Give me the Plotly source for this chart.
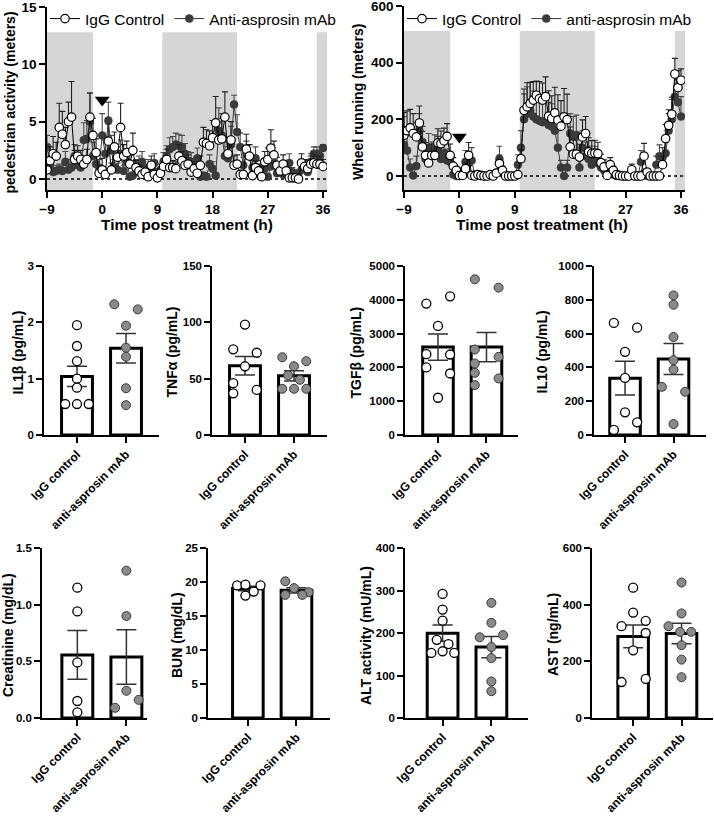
import plotly.graph_objects as go

FONT = "Arial, Liberation Sans, Helvetica, sans-serif"
W, H = 714, 817

# ---------------- time-course data (30-min bins, -9 h .. 36 h) ----------------
TIME_H = [-9 + 0.5 * i for i in range(91)]
DARK_PERIODS = [(-9, -1.5), (9.8, 22.0), (35.0, 36.65)]
TREATMENT_T = 0

ped_igg = [0.8, 1.6, 2.2, 2.0, 4.5, 3.9, 3.0, 5.0, 5.4, 1.7,
           2.0, 1.7, 1.3, 1.7, 5.4, 3.8, 2.3, 0.5, 0.8, 0.4,
           3.3, 0.8, 2.8, 1.9, 4.5, 2.0, 2.3, 1.3, 2.5, 1.0,
           0.7, 0.4, 0.6, 0.2, 1.2, 0.4, 0.1, 0.5, 1.1, 1.7,
           1.0, 1.0, 0.9, 2.0, 1.6, 1.2, 1.3, 0.6, 0.9, 0.5,
           1.2, 3.2, 3.1, 2.9, 3.6, 4.9, 3.4, 3.5, 5.4, 2.2,
           3.4, 1.2, 1.3, 0.4, 0.4, 2.6, 2.0, 0.3, 1.0, 0.7,
           0.2, 1.5, 1.7, 2.7, 2.1, 1.2, 0.7, 1.3, 0.7, 0.1,
           0.1, 0.1, 0.0, 1.4, 1.1, 0.9, 1.3, 1.4, 1.3, 1.3,
           1.1]
ped_igg_err = [1.0, 1.2, 1.5, 1.2, 2.1, 2.0, 1.5, 1.7, 3.1, 0.8,
               0.9, 0.8, 0.7, 0.9, 2.1, 1.5, 1.2, 0.4, 1.0, 0.4,
               1.5, 0.6, 1.3, 0.9, 2.1, 1.0, 1.0, 0.8, 1.5, 0.6,
               0.5, 0.4, 0.5, 0.2, 0.8, 0.3, 0.2, 0.4, 0.7, 0.9,
               0.6, 0.6, 0.6, 1.0, 0.8, 0.7, 0.8, 0.5, 0.6, 0.4,
               0.8, 1.3, 1.2, 1.3, 1.5, 2.3, 1.6, 1.8, 2.2, 1.3,
               1.6, 0.8, 0.8, 0.3, 0.3, 1.3, 1.0, 0.3, 0.6, 0.5,
               0.2, 0.9, 1.0, 1.6, 1.2, 0.7, 0.5, 0.8, 0.5, 0.1,
               0.1, 0.1, 0.0, 0.8, 0.6, 0.5, 0.7, 0.8, 0.7, 0.7,
               0.6]
ped_anti = [2.8, 1.2, 0.6, 0.7, 0.8, 0.7, 1.5, 0.8, 1.0, 2.0,
            1.2, 1.0, 3.4, 3.5, 5.0, 2.0, 1.3, 1.0, 3.8, 2.2,
            5.1, 2.5, 1.0, 0.8, 2.2, 0.7, 1.5, 0.2, 0.3, 1.0,
            1.2, 1.5, 0.5, 1.0, 0.8, 1.4, 0.5, 0.8, 1.5, 2.0,
            2.6, 2.8, 3.0, 2.9, 2.8, 2.2, 1.6, 1.5, 1.0, 1.8,
            0.2, 0.3, 0.2, 1.3, 0.9, 0.3, 4.2, 3.8, 2.0, 1.8,
            3.0, 6.5, 4.1, 2.8, 1.2, 2.2, 2.0, 1.0, 1.8, 0.8,
            1.0, 0.9, 0.2, 1.1, 1.3, 0.5, 0.9, 0.4, 0.8, 1.4,
            0.6, 0.3, 0.5, 0.8, 1.0, 0.6, 1.5, 2.2, 2.2, 2.0,
            2.7]
ped_anti_err = [1.0, 0.8, 0.4, 0.5, 0.5, 0.5, 0.9, 0.6, 0.7, 1.0,
                0.8, 0.7, 1.5, 1.6, 2.5, 1.2, 0.8, 0.7, 1.9, 1.2,
                1.6, 1.3, 0.7, 0.6, 1.2, 0.5, 0.9, 0.2, 0.3, 0.7,
                0.8, 0.9, 0.4, 0.7, 0.5, 0.8, 0.4, 0.5, 0.8, 0.9,
                1.0, 0.9, 1.0, 1.0, 1.0, 0.9, 0.8, 0.8, 0.6, 0.9,
                0.2, 0.2, 0.2, 0.8, 0.6, 0.2, 2.0, 1.9, 1.2, 1.0,
                1.6, 0.8, 1.5, 1.2, 0.7, 1.1, 1.0, 0.6, 1.0, 0.5,
                0.6, 0.6, 0.2, 0.7, 0.8, 0.3, 0.6, 0.3, 0.5, 0.8,
                0.4, 0.2, 0.3, 0.5, 0.6, 0.4, 0.7, 0.6, 0.6, 0.5,
                0.3]

wheel_igg = [144, 160, 170, 150, 138, 187, 103, 73, 46, 73,
             73, 117, 114, 124, 140, 73, 35, 20, 2, 2,
             26, 73, 2, 0, 5, 2, 0, 0, 5, 0,
             10, 44, 20, 0, 0, 0, 0, 5, 61, 232,
             244, 256, 268, 285, 273, 268, 280, 211, 203, 223,
             197, 176, 209, 199, 103, 77, 77, 67, 138, 150,
             85, 80, 81, 79, 47, 32, 2, 40, 20, 5,
             2, 0, 0, 0, 22, 0, 0, 0, 70, 14,
             0, 0, 0, 0, 40, 132, 179, 218, 360, 312,
             338]
wheel_igg_err = [80, 70, 65, 70, 50, 60, 55, 45, 30, 40,
                 40, 50, 45, 45, 45, 40, 30, 15, 2, 2,
                 20, 45, 2, 0, 5, 2, 0, 0, 5, 0,
                 10, 30, 15, 0, 0, 0, 0, 5, 30, 75,
                 85, 75, 65, 50, 60, 60, 70, 90, 80, 90,
                 90, 90, 100, 90, 70, 50, 50, 45, 60, 60,
                 50, 45, 45, 40, 30, 25, 2, 25, 15, 5,
                 2, 0, 0, 0, 20, 0, 0, 0, 45, 10,
                 0, 0, 0, 0, 30, 50, 55, 60, 55, 60,
                 40]
wheel_anti = [110, 90, 30, 2, 35, 160, 120, 60, 100, 75,
              95, 90, 60, 80, 55, 50, 5, 0, 0, 15,
              50, 45, 55, 5, 0, 0, 0, 0, 0, 0,
              10, 60, 10, 0, 0, 0, 0, 40, 100, 200,
              220, 230, 210, 200, 195, 190, 195, 180, 175, 160,
              100, 30, 0, 30, 150, 140, 145, 30, 100, 70,
              60, 40, 60, 45, 30, 20, 15, 10, 5, 0,
              0, 0, 0, 0, 0, 0, 0, 50, 10, 0,
              0, 0, 40, 70, 65, 80, 160, 200, 280, 260,
              210]
wheel_anti_err = [100, 60, 30, 10, 35, 60, 55, 40, 50, 45,
                  50, 50, 40, 45, 40, 35, 5, 0, 0, 15,
                  40, 40, 45, 5, 0, 0, 0, 0, 0, 0,
                  10, 45, 10, 0, 0, 0, 0, 35, 60, 90,
                  95, 100, 90, 90, 85, 85, 80, 80, 80, 75,
                  60, 25, 0, 25, 70, 70, 70, 25, 60, 50,
                  45, 30, 45, 35, 25, 15, 12, 8, 5, 0,
                  0, 0, 0, 0, 0, 0, 0, 40, 8, 0,
                  0, 0, 30, 40, 35, 40, 60, 70, 90, 80,
                  70]

# ---------------- terminal serum data ----------------
GROUPS = ["IgG control", "anti-asprosin mAb"]

il1b_ctrl = [1.95, 1.58, 1.31, 1.00, 0.84, 0.55, 0.55, 0.55]
il1b_ctrl_dx = [0, 0, 0, 0, 0, -0.24, 0, 0.24]
il1b_anti = [2.32, 2.23, 1.94, 1.55, 1.39, 0.83, 0.53]
il1b_anti_dx = [-0.24, 0.24, 0, 0, 0, 0, 0]
il1b_mean = [1.04, 1.54]
il1b_sem = [0.18, 0.26]

tnfa_ctrl = [98, 76, 73, 61, 46, 37, 40]
tnfa_ctrl_dx = [0, -0.24, 0.24, 0, -0.24, -0.24, 0.24]
tnfa_anti = [69, 65.5, 61, 53, 49, 41, 41, 41]
tnfa_anti_dx = [-0.24, 0.25, 0, -0.12, 0.12, -0.24, 0, 0.25]
tnfa_mean = [61.5, 52.5]
tnfa_sem = [8.2, 4.5]

tgfb_ctrl = [3887, 4104, 3228, 2391, 2381, 1998, 1820, 1102]
tgfb_ctrl_dx = [-0.24, 0.25, 0, -0.24, 0.25, -0.24, 0.25, 0]
tgfb_anti = [4605, 4360, 2529, 2116, 1840, 2312, 1673, 1476]
tgfb_anti_dx = [-0.24, 0.25, -0.24, -0.24, -0.24, 0.25, 0.25, -0.24]
tgfb_mean = [2600, 2600]
tgfb_sem = [390, 430]

il10_ctrl = [663, 635, 492, 338, 134, 75, 30]
il10_ctrl_dx = [-0.23, 0.25, 0, 0, 0, 0.25, -0.23]
il10_anti = [826, 771, 580, 443, 387, 285, 256, 65]
il10_anti_dx = [0, 0, 0, 0, 0, -0.24, 0.24, 0]
il10_mean = [336, 450]
il10_sem = [100, 92]

creat_ctrl = [1.15, 0.94, 0.49, 0.15, 0.05]
creat_ctrl_dx = [0, 0, 0, 0, 0]
creat_anti = [1.30, 0.90, 0.24, 0.16, 0.09]
creat_anti_dx = [0, 0, 0, 0.25, -0.23]
creat_mean = [0.556, 0.538]
creat_sem = [0.215, 0.24]

bun_ctrl = [19.5, 19.6, 19.5, 18.6, 18.0]
bun_ctrl_dx = [-0.22, -0.05, 0.26, 0.12, -0.05]
bun_anti = [20.1, 19.1, 18.1, 18.5, 18.1]
bun_anti_dx = [-0.23, -0.05, -0.23, 0.25, 0.12]
bun_mean = [19.04, 18.78]
bun_sem = [0.32, 0.38]

alt_ctrl = [292, 255, 229, 184, 174, 153, 157, 153]
alt_ctrl_dx = [0, 0, 0, -0.12, 0.12, -0.23, 0, 0.24]
alt_anti = [271, 224, 190, 195, 167, 141, 86, 63]
alt_anti_dx = [0, 0, -0.24, 0.24, 0, 0, 0, 0]
alt_mean = [199.6, 167]
alt_sem = [19, 25]

ast_ctrl = [460, 372, 324, 343, 300, 239, 127, 138]
ast_ctrl_dx = [0, 0, -0.24, 0.26, 0.26, 0, -0.24, 0.26]
ast_anti = [478, 369, 324, 304, 304, 257, 206, 144]
ast_anti_dx = [0, 0, -0.27, 0.2, -0.03, 0, 0, 0]
ast_mean = [288, 298]
ast_sem = [40, 36]

# ---------------- layout helpers ----------------
def xdom(p0, p1):
    return [p0 / W, p1 / W]

def ydom(top, bottom):
    return [1 - bottom / H, 1 - top / H]

fig = go.Figure()
layout = dict(
    template="none",
    width=W, height=H, autosize=False,
    margin=dict(l=0, r=0, t=0, b=0, pad=0),
    paper_bgcolor="white", plot_bgcolor="rgba(0,0,0,0)",
    font=dict(family=FONT, color="black"),
    showlegend=True,
)
shapes = []
annotations = []

AX_COMMON = dict(showline=True, linecolor="black", linewidth=1.5, showgrid=False,
                 zeroline=False, ticks="outside", ticklen=6, tickwidth=1.5, automargin=False,
                 ticklabeloverflow="allow", tickcolor="black",
                 tickfont=dict(family=FONT, size=11.5, weight="bold"))

def ytitle(text, xp, yp, size=14):
    annotations.append(dict(text=text, x=xp / W, y=1 - yp / H, xref="paper", yref="paper",
                            textangle=-90, showarrow=False, xanchor="center", yanchor="middle",
                            font=dict(family=FONT, size=size, weight="bold", color="black")))

def xtitle(text, xp, yp, size=15):
    annotations.append(dict(text=text, x=xp / W, y=1 - yp / H, xref="paper", yref="paper",
                            showarrow=False, xanchor="center", yanchor="middle",
                            font=dict(family=FONT, size=size, weight="bold", color="black")))

# ---------------- time-course panels ----------------
def time_panel(idx, xpx, ypx, yrange, ytickvals, shade_top, igg, igg_err, anti, anti_err,
               anti_name, legend_id, legend_x, arrow_y, title, title_x, xtitle_x):
    sfx = "" if idx == 1 else str(idx)
    tf = dict(family=FONT, size=13.5, weight="bold")
    layout["xaxis" + sfx] = dict(AX_COMMON, domain=xdom(*xpx), range=[-9, 36.65], tickfont=tf,
                                 tickvals=[-9, 0, 9, 18, 27, 36], anchor="y" + sfx)
    layout["yaxis" + sfx] = dict(AX_COMMON, domain=ydom(*ypx), range=yrange, tickfont=tf,
                                 tickvals=ytickvals, anchor="x" + sfx)
    xr, yr = "x" + sfx, "y" + sfx
    for a, b in DARK_PERIODS:
        shapes.append(dict(type="rect", xref=xr, yref=yr, x0=a, x1=b, y0=yrange[0], y1=shade_top,
                           fillcolor="#d6d6d6", line=dict(width=0), layer="below"))
    shapes.append(dict(type="line", xref=xr, yref=yr, x0=-9, x1=36.65, y0=0, y1=0,
                       line=dict(color="black", width=1.5, dash="dot"), layer="below"))
    zeros = [0] * len(TIME_H)
    fig.add_trace(go.Scatter(
        x=TIME_H, y=anti, mode="lines+markers", name=anti_name, xaxis=xr, yaxis=yr,
        legend=legend_id, legendrank=2,
        line=dict(color="#3a3a3a", width=1),
        marker=dict(symbol="circle", size=8, color="#3a3a3a", line=dict(color="#3a3a3a", width=0.5)),
        error_y=dict(type="data", symmetric=False, array=anti_err, arrayminus=zeros,
                     color="#4a4a4a", thickness=1.1, width=3)))
    fig.add_trace(go.Scatter(
        x=TIME_H, y=igg, mode="lines+markers", name="IgG Control", xaxis=xr, yaxis=yr,
        legend=legend_id, legendrank=1,
        line=dict(color="black", width=1),
        marker=dict(symbol="circle", size=8.5, color="white", line=dict(color="black", width=1.2)),
        error_y=dict(type="data", symmetric=False, array=igg_err, arrayminus=zeros,
                     color="#222222", thickness=1.1, width=3)))
    fig.add_trace(go.Scatter(
        x=[TREATMENT_T], y=[arrow_y], mode="markers", showlegend=False, xaxis=xr, yaxis=yr,
        marker=dict(symbol="triangle-down", size=13, color="black"), hoverinfo="skip"))
    layout[legend_id] = dict(x=legend_x / W, y=1 - 19 / H, xanchor="left", yanchor="middle",
                             orientation="h", bgcolor="rgba(0,0,0,0)", traceorder="normal",
                             font=dict(family=FONT, size=15.5, color="black"))
    ytitle(title, title_x, (ypx[0] + ypx[1]) / 2 + 4, 14)
    xtitle("Time post treatment (h)", xtitle_x, 224, 15.5)

time_panel(1, (47, 327), (7, 190), [-0.96, 15], [0, 5, 10, 15], 12.8,
           ped_igg, ped_igg_err, ped_anti, ped_anti_err, "Anti-asprosin mAb", "legend", 45, 6.9,
           "pedestrian activity (meters)", 9, 187)
time_panel(2, (404, 685), (6, 190), [-49.4, 600], [0, 200, 400, 600], 512,
           wheel_igg, wheel_igg_err, wheel_anti, wheel_anti_err, "anti-asprosin mAb", "legend2", 402, 138,
           "Wheel running (meters)", 358, 542)

# ---------------- bar panels ----------------
def bar_panel(idx, xpx, ypx, xrange, yrange, dtick, ctrl, ctrl_dx, anti, anti_dx, means, sems,
              title, title_x, tickformat=None):
    sfx = str(idx)
    xr, yr = "x" + sfx, "y" + sfx
    layout["xaxis" + sfx] = dict(AX_COMMON, domain=xdom(*xpx), range=xrange, tickvals=[0, 1],
                                 ticktext=GROUPS, tickangle=-45, anchor=yr,
                                 tickfont=dict(family=FONT, size=12, weight="bold"))
    ya = dict(AX_COMMON, domain=ydom(*ypx), range=yrange, dtick=dtick, tick0=0, anchor=xr)
    if tickformat:
        ya["tickformat"] = tickformat
    layout["yaxis" + sfx] = ya
    fig.add_trace(go.Bar(
        x=[0, 1], y=means, width=0.63, xaxis=xr, yaxis=yr, showlegend=False,
        marker=dict(color="white", line=dict(color="black", width=3)),
        error_y=dict(type="data", array=sems, color="#333333", thickness=1.5, width=10)))
    fig.add_trace(go.Scatter(
        x=[0 + d for d in ctrl_dx], y=ctrl, mode="markers", xaxis=xr, yaxis=yr, showlegend=False,
        marker=dict(symbol="circle", size=9, color="white", line=dict(color="black", width=1.3))))
    fig.add_trace(go.Scatter(
        x=[1 + d for d in anti_dx], y=anti, mode="markers", xaxis=xr, yaxis=yr, showlegend=False,
        marker=dict(symbol="circle", size=9, color="#8a8a8a", line=dict(color="#3a3a3a", width=1))))
    ytitle(title, title_x, (ypx[0] + ypx[1]) / 2 + 2, 14)

MID = (266, 435)
BOT = (548, 718)
bar_panel(3, (44, 159), MID, [-0.673, 1.673], [0, 3], 1, il1b_ctrl, il1b_ctrl_dx, il1b_anti,
          il1b_anti_dx, il1b_mean, il1b_sem, "IL1β (pg/mL)", 18)
bar_panel(4, (212, 327), MID, [-0.673, 1.673], [0, 150], 50, tnfa_ctrl, tnfa_ctrl_dx, tnfa_anti,
          tnfa_anti_dx, tnfa_mean, tnfa_sem, "TNFα (pg/mL)", 172)
bar_panel(5, (405, 518), MID, [-0.68, 1.65], [0, 5000], 1000, tgfb_ctrl, tgfb_ctrl_dx, tgfb_anti,
          tgfb_anti_dx, tgfb_mean, tgfb_sem, "TGFβ (pg/mL)", 356)
bar_panel(6, (594, 706), MID, [-0.64, 1.67], [0, 1000], 200, il10_ctrl, il10_ctrl_dx, il10_anti,
          il10_anti_dx, il10_mean, il10_sem, "IL10 (pg/mL)", 542)
bar_panel(7, (42, 147), BOT, [-0.72, 1.42], [0, 1.5], 0.5, creat_ctrl, creat_ctrl_dx, creat_anti,
          creat_anti_dx, creat_mean, creat_sem, "Creatinine (mg/dL)", 8, tickformat=".1f")
bar_panel(8, (208, 330), BOT, [-0.82, 1.69], [0, 25], 5, bun_ctrl, bun_ctrl_dx, bun_anti,
          bun_anti_dx, bun_mean, bun_sem, "BUN (mg/dL)", 177)
bar_panel(9, (405, 528), BOT, [-0.77, 1.75], [0, 400], 100, alt_ctrl, alt_ctrl_dx, alt_anti,
          alt_anti_dx, alt_mean, alt_sem, "ALT activity (mU/mL)", 366)
bar_panel(10, (592, 713), BOT, [-0.85, 1.65], [0, 600], 200, ast_ctrl, ast_ctrl_dx, ast_anti,
          ast_anti_dx, ast_mean, ast_sem, "AST (ng/mL)", 553)

layout["shapes"] = shapes
layout["annotations"] = annotations
fig.update_layout(**layout)
fig.write_html("out.html", config={"displayModeBar": False},
               post_script="document.body.style.margin='0px';document.body.style.overflow='hidden';")
